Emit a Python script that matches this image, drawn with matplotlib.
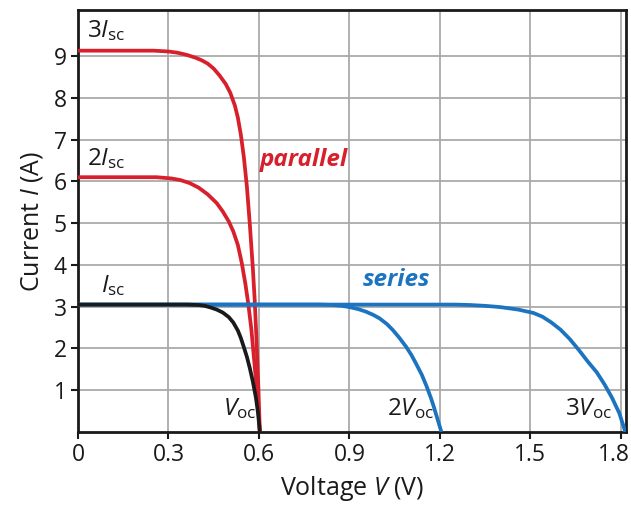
import matplotlib.pyplot as plt
import matplotlib.transforms as mtransforms
from matplotlib.ticker import FixedLocator

plt.rcParams['font.family'] = ['Open Sans', 'DejaVu Sans']
plt.rcParams['mathtext.fontset'] = 'custom'
plt.rcParams['mathtext.rm'] = 'Open Sans'
plt.rcParams['mathtext.it'] = 'Open Sans:italic'

# ==============================
# Data
# ==============================
# single cell (black)
v_cell = [0.0, 0.10, 0.20, 0.30, 0.36, 0.40, 0.42, 0.44, 0.46, 0.48, 0.50,
          0.515, 0.53, 0.54, 0.55, 0.56, 0.57, 0.58, 0.59, 0.597, 0.603]
i_cell = [3.05, 3.05, 3.05, 3.05, 3.05, 3.04, 3.02, 2.98, 2.93, 2.86, 2.75,
          2.62, 2.43, 2.25, 2.03, 1.80, 1.52, 1.20, 0.82, 0.45, 0.0]

# parallel, 2 cells (red)
v_par2 = [0.0, 0.10, 0.20, 0.26, 0.31, 0.34, 0.37, 0.40, 0.43, 0.46, 0.48,
          0.50, 0.515, 0.53, 0.543, 0.555, 0.565, 0.575, 0.585, 0.595, 0.603]
i_par2 = [6.10, 6.10, 6.10, 6.10, 6.07, 6.03, 5.96, 5.85, 5.69, 5.48, 5.28,
          5.04, 4.80, 4.48, 4.05, 3.55, 3.05, 2.45, 1.65, 0.85, 0.0]

# parallel, 3 cells (red)
v_par3 = [0.0, 0.10, 0.20, 0.25, 0.30, 0.33, 0.36, 0.39, 0.41, 0.43, 0.45,
          0.47, 0.49, 0.505, 0.52, 0.53, 0.54, 0.55, 0.56, 0.57, 0.58, 0.586,
          0.592, 0.598, 0.603]
i_par3 = [9.13, 9.13, 9.13, 9.13, 9.11, 9.08, 9.03, 8.96, 8.90, 8.82, 8.70,
          8.53, 8.33, 8.12, 7.82, 7.53, 7.12, 6.58, 5.88, 4.95, 3.90, 3.15,
          2.20, 1.10, 0.0]

# series, 2 cells (blue)
v_ser2 = [0.0, 0.30, 0.60, 0.80, 0.845, 0.875, 0.90, 0.93, 0.955, 0.98, 1.00,
          1.025, 1.044, 1.065, 1.088, 1.105, 1.12, 1.14, 1.155, 1.17, 1.18,
          1.19, 1.205]
i_ser2 = [3.05, 3.05, 3.05, 3.05, 3.04, 3.02, 2.99, 2.94, 2.88, 2.80, 2.72,
          2.58, 2.44, 2.26, 2.04, 1.85, 1.65, 1.37, 1.11, 0.82, 0.60,
          0.36, 0.0]

# series, 3 cells (blue)
v_ser3 = [0.0, 0.60, 1.00, 1.25, 1.30, 1.35, 1.40, 1.46, 1.51, 1.54, 1.57,
          1.60, 1.63, 1.66, 1.69, 1.72, 1.745, 1.77, 1.795, 1.815]
i_ser3 = [3.05, 3.05, 3.05, 3.05, 3.04, 3.02, 2.99, 2.93, 2.85, 2.76, 2.62,
          2.45, 2.23, 1.97, 1.69, 1.43, 1.15, 0.83, 0.45, 0.0]

x_ticks = [0, 0.3, 0.6, 0.9, 1.2, 1.5, 1.8]
x_labels = ['0', '0.3', '0.6', '0.9', '1.2', '1.5', '1.8']
y_ticks = [1, 2, 3, 4, 5, 6, 7, 8, 9]

red = '#d8202c'
blue = '#1c74c1'
black = '#1a1a1a'

# ==============================
# Plot
# ==============================
fig = plt.figure(figsize=(6.31, 5.07), dpi=100)
ax = fig.add_axes([0.1236, 0.148, 0.8684, 0.832])

ax.plot(v_par2, i_par2, color=red, lw=2.7, solid_capstyle='butt', zorder=3)
ax.plot(v_par3, i_par3, color=red, lw=2.7, solid_capstyle='butt', zorder=3)
ax.plot(v_ser2, i_ser2, color=blue, lw=2.7, solid_capstyle='butt', zorder=4)
ax.plot(v_ser3, i_ser3, color=blue, lw=2.7, solid_capstyle='butt', zorder=4)
ax.plot(v_cell, i_cell, color=black, lw=2.7, solid_capstyle='butt', zorder=5)

ax.set_xlim(0, 1.817)
ax.set_ylim(0, 10.1)
ax.xaxis.set_major_locator(FixedLocator(x_ticks))
ax.set_xticklabels(x_labels)
ax.yaxis.set_major_locator(FixedLocator(y_ticks))
ax.grid(True, color='#aaaaaa', lw=1.3, zorder=0)
ax.set_axisbelow(True)
for s in ax.spines.values():
    s.set_linewidth(2.0)
    s.set_color(black)
ax.tick_params(direction='out', length=5, width=1.5, labelsize=16.5,
               colors=black, pad=3)

# last x tick label sits a little left of its tick, as in the original
last = ax.get_xticklabels()[-1]
last.set_transform(last.get_transform() +
                   mtransforms.ScaledTranslation(-7 / 100, 0, fig.dpi_scale_trans))

ax.set_xlabel('Voltage $\\it{V}$ (V)', fontsize=18, color=black, labelpad=5)
ax.set_ylabel('Current $\\it{I}$ (A)', fontsize=18, color=black, labelpad=6)

# annotations
lab = dict(fontsize=17.5, color=black, va='center')
ax.text(0.03, 9.6, '3$\\it{I}_{\\rm sc}$', ha='left', **lab)
ax.text(0.03, 6.55, '2$\\it{I}_{\\rm sc}$', ha='left', **lab)
ax.text(0.075, 3.5, '$\\it{I}_{\\rm sc}$', ha='left', **lab)
ax.text(0.59, 0.55, '$\\it{V}_{\\rm oc}$', ha='right', **lab)
ax.text(1.18, 0.55, '2$\\it{V}_{\\rm oc}$', ha='right', **lab)
ax.text(1.77, 0.55, '3$\\it{V}_{\\rm oc}$', ha='right', **lab)
ax.text(0.603, 6.5, 'parallel', color=red, fontsize=17.5, fontweight='bold',
        fontstyle='italic', ha='left', va='center')
ax.text(0.945, 3.64, 'series', color=blue, fontsize=17.5, fontweight='bold',
        fontstyle='italic', ha='left', va='center')

plt.savefig('out.png', dpi=100)
plt.close()
